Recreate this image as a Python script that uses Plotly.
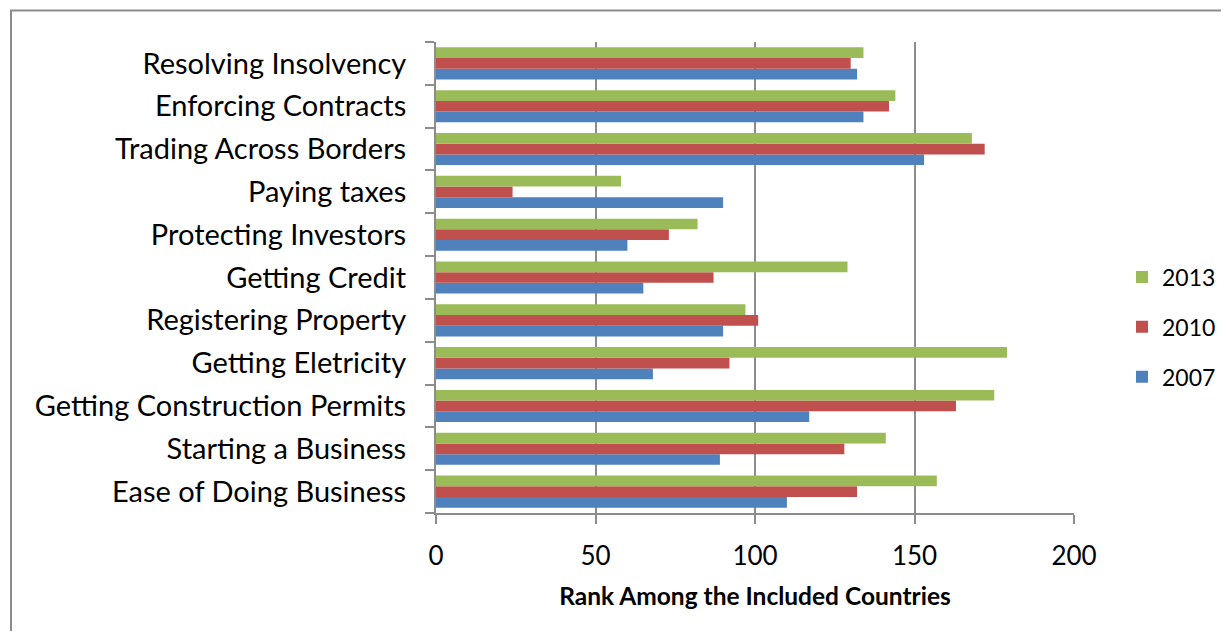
import plotly.graph_objects as go

categories = ["Ease of Doing Business", "Starting a Business", "Getting Construction Permits",
              "Getting Eletricity", "Registering Property", "Getting Credit",
              "Protecting Investors", "Paying taxes", "Trading Across Borders",
              "Enforcing Contracts", "Resolving Insolvency"]
rank_2007 = [110, 89, 117, 68, 90, 65, 60, 90, 153, 134, 132]
rank_2010 = [132, 128, 163, 92, 101, 87, 73, 24, 172, 142, 130]
rank_2013 = [157, 141, 175, 179, 97, 129, 82, 58, 168, 144, 134]
x_ticks = [0, 50, 100, 150, 200]

series = [("2007", rank_2007, "#4F81BD", 3), ("2010", rank_2010, "#C0504D", 2), ("2013", rank_2013, "#9BBB59", 1)]

fig = go.Figure()
for name, vals, col, rank in series:
    fig.add_trace(go.Bar(y=categories, x=vals, orientation="h", name=name,
                         marker=dict(color=col, line=dict(width=0)),
                         legendgroup=name, legendrank=rank))

# page has an 8px body margin; figure sized to fit the 1229x639 window
W, H = 1213, 623
L, R, T, B = 428, 1066, 34, 505
fig.update_layout(
    width=W, height=H,
    margin=dict(l=L, r=W - R, t=T, b=H - B, autoexpand=False),
    paper_bgcolor="white", plot_bgcolor="white",
    barmode="group", bargap=0.25, bargroupgap=0,
    font=dict(family="Lato, Calibri, sans-serif", color="black"),
    showlegend=True,
    legend=dict(traceorder="grouped", tracegroupgap=17,
                x=(1114 - L) / (R - L), xanchor="left", y=(B - 319) / (B - T), yanchor="middle",
                font=dict(size=23), itemwidth=30),
    xaxis=dict(range=[0, 200], tickvals=x_ticks, showgrid=True, gridcolor="#8c8c8c", gridwidth=2,
               showline=True, linecolor="#8c8c8c", linewidth=2, ticks="outside", ticklen=9,
               tickcolor="#8c8c8c", tickwidth=2, tickfont=dict(size=26), ticklabelstandoff=10,
               zeroline=False,
               title=dict(text="<b>Rank Among the Included Countries</b>", font=dict(size=24.5), standoff=18)),
    yaxis=dict(showline=True, linecolor="#8c8c8c", linewidth=2, ticks="outside", ticklen=9,
               tickcolor="#8c8c8c", tickwidth=2, tickson="boundaries", showgrid=False,
               tickfont=dict(size=29), ticklabelstandoff=22),
)

fig.add_shape(type="rect", xref="paper", yref="paper",
              x0=(3 - L) / (R - L), x1=1.4, y0=-0.5, y1=(B - 2.5) / (B - T),
              line=dict(color="#8c8c8c", width=2), layer="below")

fig.write_html("out.html")
